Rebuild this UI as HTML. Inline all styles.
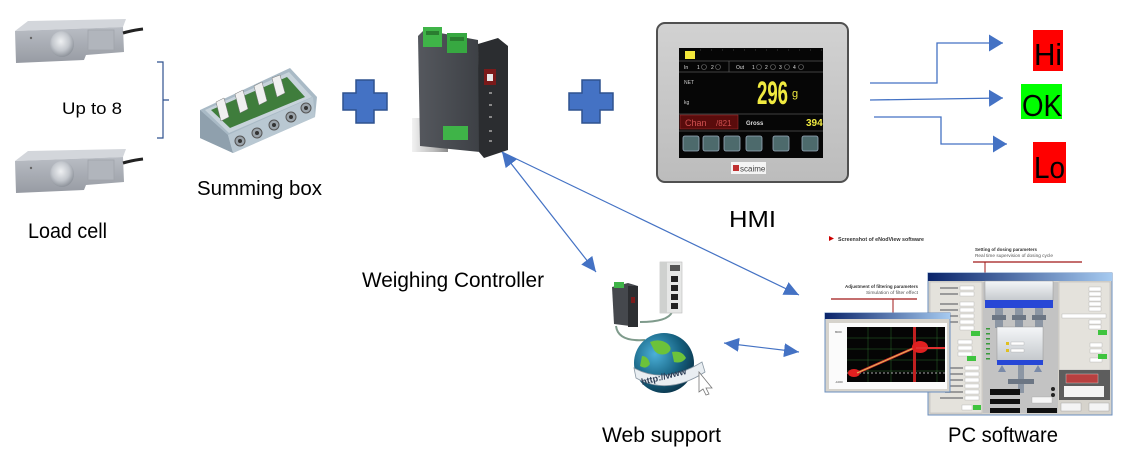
<!DOCTYPE html>
<html><head><meta charset="utf-8"><style>
html,body{margin:0;padding:0;background:#fff;}
svg{display:block;font-family:"Liberation Sans",sans-serif;}
</style></head><body>
<svg width="1124" height="462" viewBox="0 0 1124 462" xmlns="http://www.w3.org/2000/svg">
<defs>
<marker id="ah" markerWidth="16" markerHeight="16" refX="15" refY="8" orient="auto-start-reverse" markerUnits="userSpaceOnUse"><path d="M0,1 L15,8 L0,15 z" fill="#4472C4"/></marker>
<marker id="ah2" markerWidth="15" markerHeight="18" refX="14" refY="9" orient="auto" markerUnits="userSpaceOnUse"><path d="M0,0.5 L14,9 L0,17.5 z" fill="#4472C4"/></marker>
<linearGradient id="lcf" x1="0" y1="0" x2="0" y2="1"><stop offset="0" stop-color="#b9bdc4"/><stop offset="1" stop-color="#979ba3"/></linearGradient>
<radialGradient id="hole" cx="0.45" cy="0.4" r="0.6"><stop offset="0" stop-color="#eef0f2"/><stop offset="0.6" stop-color="#c3c7cd"/><stop offset="1" stop-color="#8e939b"/></radialGradient>
<linearGradient id="ctl" x1="0" y1="0" x2="1" y2="0"><stop offset="0" stop-color="#55585e"/><stop offset="1" stop-color="#3d4045"/></linearGradient>
<linearGradient id="refl" x1="0" y1="0" x2="1" y2="0"><stop offset="0" stop-color="#f2f2f2"/><stop offset="0.6" stop-color="#bdbdbd"/><stop offset="1" stop-color="#8a8a8a"/></linearGradient>
<linearGradient id="hmi" x1="0" y1="0" x2="0" y2="1"><stop offset="0" stop-color="#d2d2d2"/><stop offset="1" stop-color="#bcbcbc"/></linearGradient>
<radialGradient id="globe" cx="0.35" cy="0.35" r="0.75"><stop offset="0" stop-color="#4bb0d8"/><stop offset="0.6" stop-color="#15607f"/><stop offset="1" stop-color="#0a2f44"/></radialGradient>
<linearGradient id="tb" x1="0" y1="0" x2="1" y2="0"><stop offset="0" stop-color="#0a246a"/><stop offset="1" stop-color="#a6caf0"/></linearGradient>
<linearGradient id="cyl" x1="0" y1="0" x2="0" y2="1"><stop offset="0" stop-color="#f4f6f8"/><stop offset="1" stop-color="#c4c8cc"/></linearGradient>
</defs>

<!-- Load cells -->
<g id="lc">
<polygon points="15,31 28,21 126,19 123,27" fill="#d3d6db"/>
<polygon points="15,31 123,27 124,52 86,55 84,60 16,63" fill="url(#lcf)"/>
<ellipse cx="62" cy="44" rx="12" ry="13" fill="url(#hole)"/>
<rect x="88" y="30" width="26" height="20" fill="#b1b5bc" stroke="#a0a4ab" stroke-width="0.8"/>
<circle cx="31" cy="38" r="1.2" fill="#666"/>
<path d="M123,33 Q134,30 143,29" stroke="#222" stroke-width="3" fill="none"/>
</g>
<use href="#lc" transform="translate(0,130)"/>

<!-- bracket -->
<path d="M157,62 H163 V138 H157 M163,100 H169" stroke="#2F528F" stroke-width="1.2" fill="none"/>

<text x="62" y="114" font-size="17" textLength="60" lengthAdjust="spacingAndGlyphs">Up to 8</text>
<text x="28" y="238" font-size="21" textLength="79" lengthAdjust="spacingAndGlyphs">Load cell</text>

<!-- Summing box -->
<polygon points="200,110 290,68 317,97 315,117 233,153 200,138" fill="#a9bac6"/>
<polygon points="200,110 228,135 233,153 200,138" fill="#8fa0ad"/>
<polygon points="228,135 313,97 315,117 233,153" fill="#b9c8d2"/>
<polygon points="205,110 289,72 312,97 229,133" fill="#c7d3db"/>
<polygon points="211,110 287,77 305,97 230,128" fill="#3f7d3c"/>
<g fill="#f0f0f0" stroke="#777" stroke-width="0.5">
<polygon points="216,102 224,98 229,117 221,121"/>
<polygon points="235,94 243,90 248,109 240,113"/>
<polygon points="254,86 262,82 267,101 259,105"/>
<polygon points="272,78 280,75 285,93 277,97"/>
</g>
<g fill="#9aa3aa" stroke="#555" stroke-width="1">
<circle cx="240" cy="141" r="5"/><circle cx="257" cy="133" r="5"/><circle cx="274" cy="125" r="5"/><circle cx="291" cy="117" r="5"/><circle cx="306" cy="108" r="5"/>
</g>
<g fill="#333"><circle cx="240" cy="141" r="2"/><circle cx="257" cy="133" r="2"/><circle cx="274" cy="125" r="2"/><circle cx="291" cy="117" r="2"/><circle cx="306" cy="108" r="2"/></g>
<text x="197" y="195" font-size="20" textLength="125" lengthAdjust="spacingAndGlyphs">Summing box</text>

<!-- plus signs -->
<polygon points="356,80 374,80 374,93 387,93 387,110 374,110 374,123 356,123 356,110 343,110 343,93 356,93" fill="#4472C4" stroke="#2F528F" stroke-width="1.5"/>
<polygon points="582,80 600,80 600,93 613,93 613,110 600,110 600,123 582,123 582,110 569,110 569,93 582,93" fill="#4472C4" stroke="#2F528F" stroke-width="1.5"/>

<!-- Weighing controller -->
<rect x="412" y="118" width="36" height="34" fill="url(#refl)"/>
<polygon points="418,36 424,30 478,40 480,152 420,146" fill="url(#ctl)"/>
<polygon points="478,44 498,38 508,46 508,150 484,158 479,152" fill="#2b2d30"/>
<rect x="423" y="27" width="19" height="20" fill="#3fb448"/>
<rect x="447" y="33" width="20" height="20" fill="#37a841"/>
<rect x="426" y="31" width="13" height="4" fill="#2a7d30"/>
<rect x="450" y="37" width="14" height="4" fill="#2a7d30"/>
<rect x="443" y="126" width="25" height="14" fill="#3fb448"/>
<rect x="484" y="69" width="12" height="16" fill="#7a1a1a"/>
<rect x="487" y="74" width="6" height="7" fill="#e8e8e8"/>
<g fill="#888"><rect x="489" y="92" width="3" height="2"/><rect x="489" y="104" width="3" height="2"/><rect x="489" y="116" width="3" height="2"/><rect x="489" y="130" width="3" height="2"/><rect x="489" y="140" width="3" height="2"/></g>
<text x="362" y="287" font-size="21" textLength="182" lengthAdjust="spacingAndGlyphs">Weighing Controller</text>

<!-- HMI -->
<rect x="657" y="23" width="191" height="159" rx="8" fill="url(#hmi)" stroke="#505050" stroke-width="2"/>
<rect x="679" y="48" width="144" height="110" fill="#060606"/>
<rect x="685" y="51" width="10" height="8" fill="#f2e63a"/>
<line x1="700" y1="50" x2="822" y2="50" stroke="#777" stroke-width="0.6" stroke-dasharray="1 10"/>
<line x1="679" y1="61" x2="823" y2="61" stroke="#555" stroke-width="0.8"/>
<line x1="679" y1="72" x2="823" y2="72" stroke="#555" stroke-width="0.8"/>
<line x1="729" y1="61" x2="729" y2="72" stroke="#555" stroke-width="0.8"/>
<g fill="#ddd" font-size="5"><text x="684" y="69">In</text><text x="697" y="69">1</text><text x="711" y="69">2</text><text x="736" y="69">Out</text><text x="752" y="69">1</text><text x="765" y="69">2</text><text x="779" y="69">3</text><text x="793" y="69">4</text></g>
<g fill="none" stroke="#777" stroke-width="0.6"><circle cx="704" cy="67" r="2.5"/><circle cx="718" cy="67" r="2.5"/><circle cx="759" cy="67" r="2.5"/><circle cx="773" cy="67" r="2.5"/><circle cx="787" cy="67" r="2.5"/><circle cx="801" cy="67" r="2.5"/></g>
<text x="684" y="84" fill="#ccc" font-size="5">NET</text>
<text x="684" y="104" fill="#ccc" font-size="5">kg</text>
<text x="757" y="104" fill="#f0ea40" font-size="32" font-weight="bold" textLength="31" lengthAdjust="spacingAndGlyphs">296</text>
<text x="792" y="97" fill="#f0ea40" font-size="11">g</text>
<line x1="679" y1="114" x2="823" y2="114" stroke="#555" stroke-width="0.8"/>
<rect x="680" y="115" width="58" height="14" fill="#5a0c0c" stroke="#a03030" stroke-width="0.6"/>
<text x="685" y="126" fill="#d05050" font-size="9">Chan</text><text x="716" y="126" fill="#d05050" font-size="8">/821</text>
<text x="746" y="125" fill="#ddd" font-size="6" font-weight="bold">Gross</text>
<text x="806" y="126" fill="#f0ea40" font-size="10" font-weight="bold">394</text>
<line x1="679" y1="131" x2="823" y2="131" stroke="#555" stroke-width="0.8"/>
<g fill="#4d6a6c" stroke="#9ab" stroke-width="0.8">
<rect x="683" y="136" width="16" height="15" rx="2"/><rect x="703" y="136" width="16" height="15" rx="2"/><rect x="724" y="136" width="16" height="15" rx="2"/><rect x="746" y="136" width="16" height="15" rx="2"/><rect x="773" y="136" width="16" height="15" rx="2"/><rect x="802" y="136" width="16" height="15" rx="2"/>
</g>
<rect x="731" y="162" width="35" height="12" fill="#f4f4f4"/>
<rect x="733" y="165" width="6" height="6" fill="#c03030"/>
<text x="740" y="171.5" fill="#444" font-size="8">scaime</text>
<text x="729" y="227" font-size="23" textLength="47" lengthAdjust="spacingAndGlyphs">HMI</text>

<!-- output arrows -->
<g stroke="#4472C4" stroke-width="1.3" fill="none">
<path d="M870,83 H937 V43 H1003" marker-end="url(#ah2)"/>
<path d="M870,100 L1003,98" marker-end="url(#ah2)"/>
<path d="M874,117 H941 V144 H1007" marker-end="url(#ah2)"/>
</g>
<rect x="1033" y="30" width="30" height="41" fill="#ff0000"/>
<text x="1034" y="65" font-size="31" textLength="28" lengthAdjust="spacingAndGlyphs">Hi</text>
<rect x="1021" y="84" width="41" height="35" fill="#00ff00"/>
<text x="1022" y="116" font-size="31" textLength="40" lengthAdjust="spacingAndGlyphs">OK</text>
<rect x="1033" y="142" width="33" height="41" fill="#ff0000"/>
<text x="1034" y="178" font-size="31" textLength="31" lengthAdjust="spacingAndGlyphs">Lo</text>

<!-- connection arrows -->
<g stroke="#4472C4" stroke-width="1.2" fill="none">
<path d="M502,152 L596,272" marker-start="url(#ah)" marker-end="url(#ah)"/>
<path d="M502,152 L799,295" marker-end="url(#ah)"/>
<path d="M724,343 L799,352" marker-start="url(#ah)" marker-end="url(#ah)"/>
</g>

<!-- Web support -->
<path d="M672,312 Q668,322 640,322" stroke="#7f9b8c" stroke-width="2" fill="none"/>
<path d="M616,326 Q618,342 645,340" stroke="#7f9b8c" stroke-width="2" fill="none"/>
<polygon points="612,287 628,283 638,286 638,327 614,324" fill="#45484d"/>
<rect x="628" y="286" width="10" height="41" fill="#2c2e31"/>
<rect x="614" y="282" width="10" height="6" fill="#3fb448"/>
<rect x="631" y="297" width="4" height="6" fill="#7a1a1a"/>
<rect x="660" y="262" width="22" height="51" fill="#e6e7e6" stroke="#bbb" stroke-width="0.6"/>
<rect x="660" y="262" width="7" height="51" fill="#cfd1cf"/>
<rect x="670" y="265" width="10" height="6" fill="#555"/>
<g fill="#222"><rect x="671" y="276" width="7" height="6"/><rect x="671" y="285" width="7" height="6"/><rect x="671" y="294" width="7" height="6"/><rect x="671" y="303" width="7" height="6"/></g>
<circle cx="664" cy="363" r="30" fill="url(#globe)"/>
<path d="M650,342 q10,-4 18,2 q6,6 -2,10 q-8,2 -12,-4 z M672,352 q10,-2 14,6 q-4,6 -12,4 z M642,356 q6,0 8,8 q-4,6 -10,2 z" fill="#6cc23a"/>
<path d="M634,368 Q665,385 702,362 L705,372 Q668,396 636,378 z" fill="#e9eef2" stroke="#8a98a4" stroke-width="0.8"/>
<text x="641" y="380" font-size="9" font-weight="bold" fill="#2b3d55" transform="rotate(-14 662 378)">http://www</text>
<path d="M699,372 L712,388 L706,388 L709,394 L706,395 L703,389 L699,392 z" fill="#fff" stroke="#777" stroke-width="0.8"/>
<text x="602" y="442" font-size="21" textLength="119" lengthAdjust="spacingAndGlyphs">Web support</text>

<!-- PC software -->
<polygon points="829,236 834,238.5 829,241" fill="#c00"/>
<text x="838" y="241" font-size="5" font-weight="bold" fill="#333" textLength="86" lengthAdjust="spacingAndGlyphs">Screenshot of eNodView software</text>
<text x="975" y="251" font-size="4.5" font-weight="bold" fill="#333" textLength="62" lengthAdjust="spacingAndGlyphs">Setting of dosing parameters</text>
<text x="975" y="257" font-size="4.5" fill="#555" textLength="78" lengthAdjust="spacingAndGlyphs">Real time supervision of dosing cycle</text>
<line x1="973" y1="262" x2="1082" y2="262" stroke="#a01818" stroke-width="1.2"/>
<line x1="985" y1="262" x2="985" y2="274" stroke="#a01818" stroke-width="1"/>
<text x="845" y="288" font-size="4.5" font-weight="bold" fill="#333" textLength="73" lengthAdjust="spacingAndGlyphs">Adjustment of filtering parameters</text>
<text x="866" y="294" font-size="4.5" fill="#555" textLength="52" lengthAdjust="spacingAndGlyphs">Simulation of filter effect</text>
<line x1="831" y1="299" x2="917" y2="299" stroke="#a01818" stroke-width="1.2"/>
<line x1="893" y1="299" x2="893" y2="313" stroke="#a01818" stroke-width="1"/>

<!-- main window -->
<rect x="928" y="273" width="184" height="142" fill="#d6d3cc" stroke="#6b8fbf" stroke-width="1"/>
<rect x="928" y="273" width="184" height="8" fill="url(#tb)"/>
<rect x="930" y="282" width="52" height="131" fill="#e4e2dc" stroke="#aaa" stroke-width="0.4"/>
<g fill="#fff" stroke="#999" stroke-width="0.3">
<rect x="960" y="286" width="14" height="4"/><rect x="960" y="292" width="14" height="4"/>
<rect x="960" y="302" width="14" height="4"/><rect x="960" y="308" width="14" height="4"/><rect x="960" y="314" width="14" height="4"/><rect x="960" y="320" width="14" height="4"/><rect x="960" y="326" width="14" height="4"/>
<rect x="958" y="340" width="14" height="4"/><rect x="958" y="346" width="14" height="4"/><rect x="958" y="352" width="14" height="4"/>
<rect x="965" y="366" width="14" height="4"/><rect x="965" y="372" width="14" height="4"/><rect x="965" y="378" width="14" height="4"/><rect x="965" y="384" width="14" height="4"/><rect x="965" y="390" width="14" height="4"/><rect x="965" y="396" width="14" height="4"/><rect x="962" y="405" width="10" height="5"/>
</g>
<g fill="#9a9a9a"><rect x="940" y="287" width="18" height="2"/><rect x="940" y="293" width="18" height="2"/><rect x="940" y="303" width="18" height="2"/><rect x="940" y="309" width="18" height="2"/><rect x="940" y="315" width="18" height="2"/><rect x="940" y="321" width="18" height="2"/><rect x="945" y="367" width="18" height="2"/><rect x="945" y="373" width="18" height="2"/><rect x="945" y="379" width="18" height="2"/><rect x="945" y="385" width="18" height="2"/><rect x="945" y="391" width="18" height="2"/><rect x="940" y="397" width="23" height="2"/></g>
<g fill="#3fc43f"><rect x="971" y="331" width="9" height="5"/><rect x="967" y="356" width="9" height="5"/><rect x="973" y="405" width="8" height="5"/></g>
<rect x="983" y="282" width="75" height="131" fill="#c3c3c3"/>
<rect x="985" y="281" width="68" height="20" fill="url(#cyl)" stroke="#888" stroke-width="0.4"/>
<rect x="985" y="300" width="68" height="8" fill="#2747d6"/>
<g fill="#8c96a4"><rect x="995" y="308" width="8" height="20"/><rect x="1015" y="308" width="8" height="20"/><rect x="1035" y="308" width="8" height="20"/></g>
<g fill="#6c7684"><rect x="992" y="315" width="14" height="5"/><rect x="1012" y="315" width="14" height="5"/><rect x="1032" y="315" width="14" height="5"/></g>
<rect x="997" y="327" width="46" height="34" fill="url(#cyl)" stroke="#888" stroke-width="0.4"/>
<rect x="997" y="360" width="46" height="5" fill="#2747d6"/>
<g fill="#e0c020"><rect x="1006" y="342" width="3" height="3"/><rect x="1006" y="349" width="3" height="3"/></g>
<g fill="#fff" stroke="#999" stroke-width="0.3"><rect x="1011" y="342" width="13" height="3"/><rect x="1011" y="349" width="13" height="3"/></g>
<g fill="#7a8aa8"><polygon points="998,372 1002,365 1006,372"/><polygon points="1034,372 1038,365 1042,372"/></g>
<rect x="1018" y="365" width="6" height="28" fill="#8c96a4"/>
<rect x="1008" y="379" width="26" height="5" fill="#6c7684"/>
<g fill="#3a9a3a"><rect x="986" y="328" width="4" height="1.5"/><rect x="986" y="333" width="4" height="1.5"/><rect x="986" y="338" width="4" height="1.5"/><rect x="986" y="343" width="4" height="1.5"/><rect x="986" y="348" width="4" height="1.5"/><rect x="986" y="353" width="4" height="1.5"/><rect x="986" y="358" width="4" height="1.5"/></g>
<g fill="#111"><rect x="990" y="389" width="30" height="6"/><rect x="990" y="399" width="30" height="5"/><rect x="990" y="408" width="30" height="5"/><rect x="1027" y="408" width="30" height="5"/></g>
<g fill="#222"><circle cx="1053" cy="389" r="2"/><circle cx="1053" cy="395" r="2"/></g>
<rect x="1032" y="397" width="20" height="6" fill="#f6f6f6" stroke="#999" stroke-width="0.3"/>
<rect x="1059" y="282" width="51" height="88" fill="#e4e2dc" stroke="#aaa" stroke-width="0.4"/>
<g fill="#fff" stroke="#999" stroke-width="0.3">
<rect x="1089" y="287" width="12" height="4"/><rect x="1089" y="292" width="12" height="4"/><rect x="1089" y="297" width="12" height="4"/><rect x="1089" y="302" width="12" height="4"/><rect x="1089" y="307" width="12" height="4"/>
<rect x="1062" y="314" width="44" height="4"/><rect x="1089" y="320" width="12" height="4"/><rect x="1089" y="325" width="12" height="4"/>
<rect x="1090" y="343" width="12" height="4"/><rect x="1090" y="349" width="12" height="4"/><rect x="1090" y="358" width="12" height="4"/>
</g>
<g fill="#3fc43f"><rect x="1098" y="330" width="9" height="5"/><rect x="1098" y="354" width="9" height="5"/><rect x="1100" y="402" width="0" height="0"/></g>
<rect x="1059" y="370" width="51" height="30" fill="#5d5d5d"/>
<rect x="1066" y="374" width="32" height="9" fill="#b84040" stroke="#ddd" stroke-width="0.4"/>
<rect x="1064" y="386" width="40" height="11" fill="#f4f4f4"/>
<g fill="#f4f4f4" stroke="#999" stroke-width="0.4"><rect x="1061" y="403" width="20" height="8"/><rect x="1089" y="403" width="20" height="8"/></g>

<!-- chart window -->
<rect x="825" y="313" width="125" height="79" fill="#d6d3cc" stroke="#6b8fbf" stroke-width="1"/>
<rect x="825" y="313" width="125" height="6" fill="url(#tb)"/>
<rect x="829" y="323" width="118" height="66" fill="#fbfbfb"/>
<rect x="847" y="327" width="98" height="55" fill="#050505"/>
<g stroke="#2d6b2d" stroke-width="0.5"><line x1="868" y1="327" x2="868" y2="382"/><line x1="891" y1="327" x2="891" y2="382"/><line x1="914" y1="327" x2="914" y2="382"/><line x1="937" y1="327" x2="937" y2="382"/><line x1="847" y1="338" x2="945" y2="338"/><line x1="847" y1="349" x2="945" y2="349"/><line x1="847" y1="360" x2="945" y2="360"/><line x1="847" y1="371" x2="945" y2="371"/></g>
<line x1="847" y1="373" x2="945" y2="373" stroke="#ddd" stroke-width="0.8" stroke-dasharray="2 2"/>
<ellipse cx="854" cy="373" rx="6" ry="4" fill="#e02020"/>
<path d="M857,373 L914,348" stroke="#e03030" stroke-width="2.5" fill="none"/>
<path d="M857,373 L914,348" stroke="#d8d860" stroke-width="0.8" fill="none"/>
<rect x="913" y="327" width="3" height="55" fill="#c02020"/>
<path d="M914,342 L945,348" stroke="#e02020" stroke-width="0" fill="none"/>
<ellipse cx="920" cy="347" rx="8" ry="6" fill="#e02020"/>
<path d="M916,348 H945" stroke="#e03030" stroke-width="2" fill="none"/>
<g fill="#444" font-size="3"><text x="835" y="333">8000</text><text x="835" y="383">-1000</text></g>
<text x="948" y="442" font-size="21" textLength="110" lengthAdjust="spacingAndGlyphs">PC software</text>
</svg>
</body></html>
